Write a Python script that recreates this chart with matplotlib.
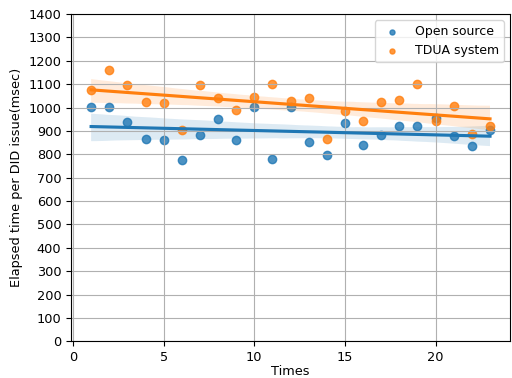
import matplotlib
matplotlib.use('Agg')
import matplotlib.pyplot as plt
import seaborn as sns
import numpy as np

times = np.arange(1, 24)
open_source = [1003, 1003, 939, 867, 863, 775, 882, 953, 863, 1003, 779, 1003,
               852, 797, 935, 839, 883, 920, 922, 956, 878, 836, 903]
tdua_system = [1074, 1160, 1096, 1022, 1019, 903, 1096, 1039, 989, 1043, 1099, 1027,
               1039, 867, 985, 943, 1022, 1034, 1099, 943, 1007, 885, 920]

plt.rcParams['font.size'] = 9.3

fig, ax = plt.subplots(figsize=(5.12, 3.78), dpi=100)

sns.regplot(x=times, y=open_source, ax=ax, label='Open source', color='C0')
sns.regplot(x=times, y=tdua_system, ax=ax, label='TDUA system', color='C1')

ax.set_ylim(0, 1400)
ax.set_yticks(range(0, 1401, 100))
ax.set_xlim(-0.1, 24.1)
ax.grid(True)
ax.set_xlabel('Times', labelpad=1)
ax.set_ylabel('Elapsed time per DID issue(msec)')
ax.legend(loc='upper right', markerscale=0.6, fontsize=9)

fig.subplots_adjust(left=0.139, right=0.996, top=0.963, bottom=0.097)
fig.savefig('out.png', dpi=100)
